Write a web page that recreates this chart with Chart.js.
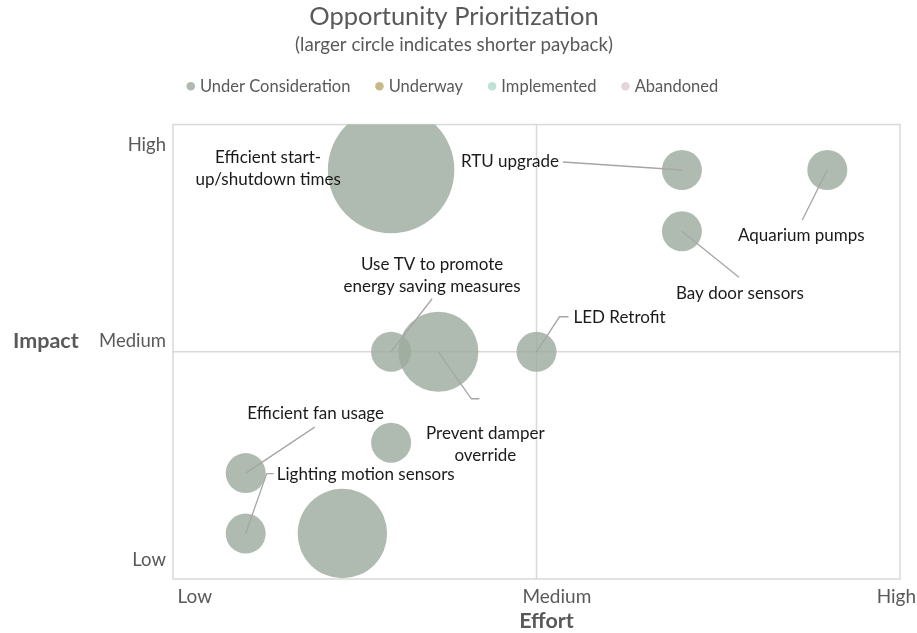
<!DOCTYPE html>
<html>
<head>
<meta charset="utf-8">
<script src="https://cdn.jsdelivr.net/npm/chart.js@4.4.1/dist/chart.umd.min.js"></script>
<style>
  html, body { margin: 0; padding: 0; background: #fff; overflow: hidden; }
  canvas { display: block; }
</style>
</head>
<body>
<canvas id="chart" width="917" height="633"></canvas>
<script>
// --- data ---
const opportunities = [
    'Efficient start-up/shutdown times',
    'RTU upgrade',
    'Aquarium pumps',
    'Bay door sensors',
    'LED Retrofit',
    'Use TV to promote energy saving measures',
    'Prevent damper override',
    '',
    'Efficient fan usage',
    'Lighting motion sensors',
    '',
];
const effort = [3, 7, 9, 7, 5, 3, 3.65, 3, 1, 1, 2.33];
const impact = [9, 9, 9, 7.65, 5, 5, 5, 3, 2.33, 1, 1];
// relative bubble size (larger = shorter payback)
const paybackSize = [10, 1, 1, 1, 1, 1, 4, 1, 1, 1, 5];

const statusNames = ['Under Consideration', 'Underway', 'Implemented', 'Abandoned'];
const statusColors = ['rgba(157,172,159,0.82)', 'rgba(201,184,136,1)', 'rgba(190,226,215,1)', 'rgba(232,211,219,1)'];

const xTickValues = [0.3, 5.28, 9.95];
const xTickLabels = ['Low', 'Medium', 'High'];
const yTickValues = [0.42, 5.23, 9.54];
const yTickLabels = ['Low', 'Medium', 'High'];

const FONT = 'Lato, "Open Sans", sans-serif';
const GREY_TEXT = '#595959';
const LINE_GREY = '#d9d9d9';

// label placement relative to the bubble centre (pixels)
const labelLayout = {
    'Efficient start-up/shutdown times': { lines: ['Efficient start-', 'up/shutdown times'], dx: -123, dy: -12, leader: null },
    'RTU upgrade': { lines: ['RTU upgrade'], dx: -172, dy: -8, leader: [[-119, -8], [0, 0]] },
    'Aquarium pumps': { lines: ['Aquarium pumps'], dx: -26, dy: 66, leader: [[-25, 50], [0, 0]] },
    'Bay door sensors': { lines: ['Bay door sensors'], dx: 58, dy: 62, leader: [[57, 46], [0, 0]] },
    'LED Retrofit': { lines: ['LED Retrofit'], dx: 83, dy: -34, leader: [[0, 0], [23, -35], [32, -35]] },
    'Use TV to promote energy saving measures': { lines: ['Use TV to promote', 'energy saving measures'], dx: 41, dy: -87, leader: [[41, -53], [0, 0]] },
    'Prevent damper override': { lines: ['Prevent damper', 'override'], dx: 47, dy: 82, leader: [[0, 0], [33, 47], [41, 47]] },
    'Efficient fan usage': { lines: ['Efficient fan usage'], dx: 70, dy: -60, leader: [[69, -46], [0, 0]] },
    'Lighting motion sensors': { lines: ['Lighting motion sensors'], dx: 120, dy: -59, leader: [[0, 0], [21, -60], [28, -60]] },
};

const bubbleData = effort.map((x, i) => ({ x: x, y: impact[i], size: paybackSize[i], name: opportunities[i] }));

const datasets = statusNames.map((name, i) => ({
    label: name,
    data: i === 0 ? bubbleData : [],
    backgroundColor: statusColors[i],
    borderWidth: 0,
    clip: 0,
    radius: (ctx) => {
        const d = ctx.raw;
        return d ? 20 * Math.sqrt(d.size) : 5;
    },
    hoverRadius: 0,
}));

// extra space between legend and plot
const legendGap = {
    id: 'legendGap',
    beforeInit(chart) {
        const origFit = chart.legend.fit;
        chart.legend.fit = function () {
            origFit.call(this);
            this.height += 20;
        };
    },
};

// frame + quadrant lines + axis titles
const quadrantPlugin = {
    id: 'quadrant',
    beforeDatasetsDraw(chart) {
        const { ctx, chartArea: a, scales } = chart;
        const mx = scales.x.getPixelForValue(5);
        const my = scales.y.getPixelForValue(5);
        ctx.save();
        ctx.strokeStyle = LINE_GREY;
        ctx.lineWidth = 1.5;
        ctx.strokeRect(a.left, a.top, a.right - a.left, a.bottom - a.top);
        ctx.beginPath();
        ctx.moveTo(mx, a.top);
        ctx.lineTo(mx, a.bottom);
        ctx.moveTo(a.left, my);
        ctx.lineTo(a.right, my);
        ctx.stroke();
        ctx.fillStyle = GREY_TEXT;
        ctx.font = 'bold 21.5px ' + FONT;
        ctx.textBaseline = 'middle';
        ctx.textAlign = 'left';
        ctx.fillText('Impact', 13, scales.y.getPixelForValue(yTickValues[1]));
        ctx.textAlign = 'center';
        ctx.fillText('Effort', mx + 10, chart.height - 12);
        ctx.restore();
    },
};

// data labels with leader lines
const labelPlugin = {
    id: 'bubbleLabels',
    afterDatasetsDraw(chart) {
        const { ctx, scales } = chart;
        ctx.save();
        bubbleData.forEach((d) => {
            const lay = labelLayout[d.name];
            if (!lay) return;
            const cx = scales.x.getPixelForValue(d.x);
            const cy = scales.y.getPixelForValue(d.y);
            if (lay.leader) {
                ctx.strokeStyle = '#a6a6a6';
                ctx.lineWidth = 1.3;
                ctx.beginPath();
                lay.leader.forEach((p, k) => {
                    if (k === 0) ctx.moveTo(cx + p[0], cy + p[1]);
                    else ctx.lineTo(cx + p[0], cy + p[1]);
                });
                ctx.stroke();
            }
            ctx.fillStyle = '#1a1a1a';
            ctx.font = '17px ' + FONT;
            ctx.textAlign = 'center';
            ctx.textBaseline = 'middle';
            lay.lines.forEach((t, k) => {
                ctx.fillText(t, cx + lay.dx, cy + lay.dy + k * 22);
            });
        });
        ctx.restore();
    },
};

new Chart(document.getElementById('chart'), {
    type: 'bubble',
    data: { datasets: datasets },
    plugins: [legendGap, quadrantPlugin, labelPlugin],
    options: {
        responsive: false,
        animation: false,
        events: [],
        layout: { autoPadding: false, padding: { left: 0, right: 9, top: 0, bottom: 0 } },
        plugins: {
            title: {
                display: true,
                text: 'Opportunity Prioritization',
                color: GREY_TEXT,
                font: { family: FONT, size: 25.5, weight: 'normal' },
                padding: { top: 1, bottom: 2.5 },
            },
            subtitle: {
                display: true,
                text: '(larger circle indicates shorter payback)',
                color: GREY_TEXT,
                font: { family: FONT, size: 18.7, weight: 'normal' },
                padding: { top: 0, bottom: -6.5 },
            },
            legend: {
                display: true,
                position: 'top',
                labels: {
                    usePointStyle: true,
                    pointStyle: 'circle',
                    boxWidth: 2,
                    boxHeight: 6,
                    padding: 28,
                    color: GREY_TEXT,
                    font: { family: FONT, size: 16.5 },
                },
            },
            tooltip: { enabled: false },
        },
        scales: {
            x: {
                type: 'linear',
                min: 0,
                max: 10,
                afterBuildTicks: (scale) => { scale.ticks = xTickValues.map((v) => ({ value: v })); },
                afterFit: (scale) => {
                    scale.height = 54;
                    scale.paddingLeft = 0;
                    scale.paddingRight = 17;
                },
                grid: { display: false, drawTicks: false },
                border: { display: false },
                ticks: {
                    color: GREY_TEXT,
                    font: { family: FONT, size: 19 },
                    padding: 6,
                    callback: (v, i) => xTickLabels[i],
                },
            },
            y: {
                type: 'linear',
                min: 0,
                max: 10,
                afterBuildTicks: (scale) => { scale.ticks = yTickValues.map((v) => ({ value: v })); },
                afterFit: (scale) => {
                    scale.width = 173;
                    scale.paddingTop = 0;
                    scale.paddingBottom = 0;
                },
                grid: { display: false, drawTicks: false },
                border: { display: false },
                ticks: {
                    color: GREY_TEXT,
                    font: { family: FONT, size: 18.5 },
                    padding: 7,
                    callback: (v, i) => yTickLabels[i],
                },
            },
        },
    },
});
</script>
</body>
</html>
